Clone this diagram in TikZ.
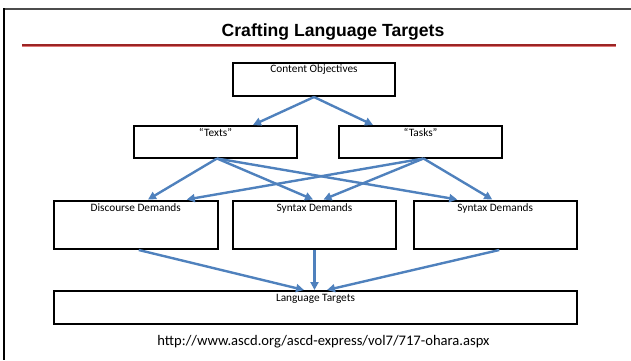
\documentclass[tikz,border=0pt]{standalone}
\usepackage{fontspec}
\setmainfont{Carlito}
\newfontfamily\titlefont{Liberation Sans}
\usetikzlibrary{arrows.meta,calc}
\definecolor{arrblue}{HTML}{4F81BD}
\definecolor{rdark}{HTML}{9B2424}
\definecolor{rlight}{HTML}{E07878}
\tikzset{
  boxnode/.style={draw=black, line width=2pt, fill=white, minimum width=#1, inner sep=0pt},
  lbl/.style={font=\fontsize{11.3}{13}\selectfont, anchor=center, inner sep=0pt},
  arr/.style={draw=arrblue, line width=2.4pt, -{Triangle[length=8pt,width=8pt]}, shorten >=0pt}
}
\begin{document}
\begin{tikzpicture}[x=1pt,y=-1pt]
\useasboundingbox (0,0) rectangle (631,360);
% frame
\draw[line width=1.6pt, black!70] (3,9) -- (631,9);
\draw[line width=2pt, black] (3.5,8.2) -- (3.5,360);
% title
\node[font=\titlefont\bfseries\fontsize{17.6}{19}\selectfont, anchor=base, inner sep=0pt] (title) at (333,36.5) {Crafting Language Targets};
\draw[line width=1.3pt, rdark] (22,45) -- (616,45);
\draw[line width=1.3pt, rlight] (22,46.4) -- (616,46.4);
% boxes
\node[boxnode=162pt, minimum height=33pt] (co) at (314,79.5) {};
\node[boxnode=163pt, minimum height=31.5pt] (tx) at (215.5,141.75) {};
\node[boxnode=163pt, minimum height=31.5pt] (tk) at (420.5,141.75) {};
\node[boxnode=163.5pt, minimum height=48.5pt] (dd) at (135.75,224.75) {};
\node[boxnode=163pt, minimum height=48.5pt] (s1) at (314.5,224.75) {};
\node[boxnode=163.5pt, minimum height=48.5pt] (s2) at (495.25,224.75) {};
\node[boxnode=523pt, minimum height=32.5pt] (lt) at (315.5,307.25) {};
% labels
\node[lbl] (coL) at ($(co.north)+(0,8)$) {Content Objectives};
\node[lbl] (txL) at ($(tx.north)+(0,7.5)$) {“Texts”};
\node[lbl] (tkL) at ($(tk.north)+(0,7.5)$) {“Tasks”};
\node[lbl] (ddL) at ($(dd.north)+(0,8.5)$) {Discourse Demands};
\node[lbl] (s1L) at ($(s1.north)+(0,8.5)$) {Syntax Demands};
\node[lbl] (s2L) at ($(s2.north)+(0,8.5)$) {Syntax Demands};
\node[lbl] (ltL) at ($(lt.north)+(0,9)$) {Language Targets};
% url
\node[font=\fontsize{14.6}{16}\selectfont, anchor=base, inner sep=0pt] (url) at (323.5,345.5) {http://www.ascd.org/ascd-express/vol7/717-ohara.aspx};
% arrows
\draw[arr] (co.south) -- ([xshift=37.5pt]tx.north);
\draw[arr] (co.south) -- ([xshift=-47.5pt]tk.north);
\draw[arr] ([xshift=1.5pt]tx.south) -- ([xshift=12.25pt]dd.north);
\draw[arr] ([xshift=1.5pt]tx.south) -- ([xshift=-1.5pt]s1.north);
\draw[arr] ([xshift=1.5pt]tx.south) -- ([xshift=-38pt]s2.north);
\draw[arr] ([xshift=3pt]tk.south) -- ([xshift=51pt]dd.north);
\draw[arr] ([xshift=3pt]tk.south) -- ([xshift=9pt]s1.north);
\draw[arr] ([xshift=3pt]tk.south) -- ([xshift=-3pt]s2.north);
\draw[arr] ([xshift=3pt]dd.south) -- ([xshift=-11.5pt]lt.north);
\draw[arr] (s1.south) -- (s1.south |- lt.north);
\draw[arr] ([xshift=4pt]s2.south) -- ([xshift=11.5pt]lt.north);
\end{tikzpicture}
\end{document}
